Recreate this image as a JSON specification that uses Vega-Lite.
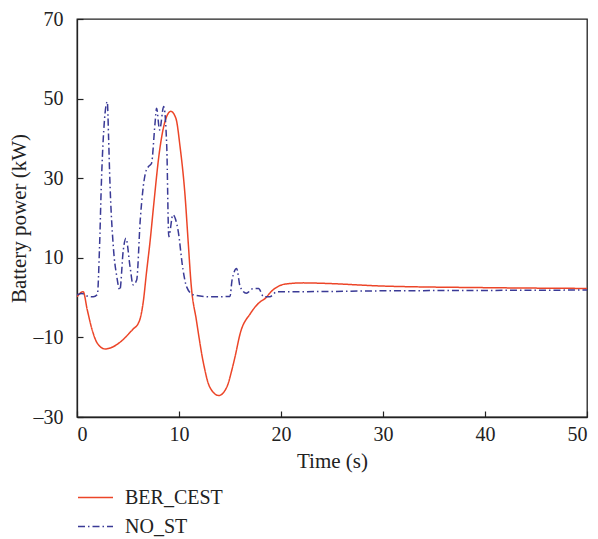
{
  "$schema": "https://vega.github.io/schema/vega-lite/v6.json",
  "width": 510,
  "height": 398,
  "autosize": {"type": "none"},
  "padding": {"left": 77, "top": 19, "right": 11, "bottom": 122},
  "background": "white",
  "config": {
    "view": {"stroke": "#222222", "strokeWidth": 1.3},
    "font": "Liberation Serif",
    "axis": {
      "labelFont": "Liberation Serif",
      "titleFont": "Liberation Serif",
      "labelFontSize": 20,
      "titleFontSize": 21,
      "labelColor": "#222222",
      "titleColor": "#222222",
      "titleFontWeight": "normal",
      "domainColor": "#222222",
      "domainWidth": 1.3,
      "tickColor": "#222222",
      "tickSize": -6,
      "tickWidth": 1.2,
      "grid": false
    },
    "legend": {
      "labelFont": "Liberation Serif",
      "labelFontSize": 20,
      "labelColor": "#222222"
    }
  },
  "data": {
    "values": [
      {"t": 0, "p": 0.2, "s": "BER_CEST"},
      {"t": 0.6, "p": 1.5, "s": "BER_CEST"},
      {"t": 1.0, "p": -3, "s": "BER_CEST"},
      {"t": 1.44, "p": -7.7, "s": "BER_CEST"},
      {"t": 2.0, "p": -11.5, "s": "BER_CEST"},
      {"t": 2.75, "p": -12.9, "s": "BER_CEST"},
      {"t": 3.5, "p": -12.4, "s": "BER_CEST"},
      {"t": 4.5, "p": -10.6, "s": "BER_CEST"},
      {"t": 5.5, "p": -7.9, "s": "BER_CEST"},
      {"t": 6.0, "p": -6.5, "s": "BER_CEST"},
      {"t": 6.2, "p": -5.2, "s": "BER_CEST"},
      {"t": 6.5, "p": -1, "s": "BER_CEST"},
      {"t": 6.8, "p": 6, "s": "BER_CEST"},
      {"t": 7.2, "p": 15, "s": "BER_CEST"},
      {"t": 7.5, "p": 22.8, "s": "BER_CEST"},
      {"t": 8.1, "p": 37, "s": "BER_CEST"},
      {"t": 8.6, "p": 44, "s": "BER_CEST"},
      {"t": 9.2, "p": 46.8, "s": "BER_CEST"},
      {"t": 9.7, "p": 45, "s": "BER_CEST"},
      {"t": 10.1, "p": 38, "s": "BER_CEST"},
      {"t": 10.6, "p": 25.4, "s": "BER_CEST"},
      {"t": 10.9, "p": 14, "s": "BER_CEST"},
      {"t": 11.2, "p": 3, "s": "BER_CEST"},
      {"t": 11.7, "p": -5.6, "s": "BER_CEST"},
      {"t": 12.4, "p": -16.5, "s": "BER_CEST"},
      {"t": 13.0, "p": -22.4, "s": "BER_CEST"},
      {"t": 13.9, "p": -24.6, "s": "BER_CEST"},
      {"t": 14.7, "p": -22.4, "s": "BER_CEST"},
      {"t": 15.2, "p": -18, "s": "BER_CEST"},
      {"t": 15.5, "p": -14.8, "s": "BER_CEST"},
      {"t": 16.0, "p": -9.0, "s": "BER_CEST"},
      {"t": 17.0, "p": -4.0, "s": "BER_CEST"},
      {"t": 18.1, "p": -0.8, "s": "BER_CEST"},
      {"t": 18.3, "p": -0.5, "s": "BER_CEST"},
      {"t": 19.2, "p": 1.9, "s": "BER_CEST"},
      {"t": 20.4, "p": 3.4, "s": "BER_CEST"},
      {"t": 22.2, "p": 3.7, "s": "BER_CEST"},
      {"t": 24, "p": 3.6, "s": "BER_CEST"},
      {"t": 30, "p": 2.9, "s": "BER_CEST"},
      {"t": 40, "p": 2.5, "s": "BER_CEST"},
      {"t": 50, "p": 2.3, "s": "BER_CEST"},
      {"t": 0, "p": 0.7, "s": "NO_ST"},
      {"t": 0.5, "p": 1.0, "s": "NO_ST"},
      {"t": 1.0, "p": 0.4, "s": "NO_ST"},
      {"t": 1.6, "p": 0.2, "s": "NO_ST"},
      {"t": 2.0, "p": 0.8, "s": "NO_ST"},
      {"t": 2.2, "p": 12, "s": "NO_ST"},
      {"t": 2.4, "p": 29.5, "s": "NO_ST"},
      {"t": 2.75, "p": 46.3, "s": "NO_ST"},
      {"t": 2.97, "p": 49.2, "s": "NO_ST"},
      {"t": 3.1, "p": 40, "s": "NO_ST"},
      {"t": 3.2, "p": 31.2, "s": "NO_ST"},
      {"t": 3.56, "p": 12.8, "s": "NO_ST"},
      {"t": 3.9, "p": 5.3, "s": "NO_ST"},
      {"t": 4.2, "p": 1.9, "s": "NO_ST"},
      {"t": 4.54, "p": 12, "s": "NO_ST"},
      {"t": 4.8, "p": 14.9, "s": "NO_ST"},
      {"t": 5.2, "p": 7.8, "s": "NO_ST"},
      {"t": 5.5, "p": 3.2, "s": "NO_ST"},
      {"t": 5.85, "p": 4.4, "s": "NO_ST"},
      {"t": 6.2, "p": 19.5, "s": "NO_ST"},
      {"t": 6.7, "p": 31.2, "s": "NO_ST"},
      {"t": 7.0, "p": 32.9, "s": "NO_ST"},
      {"t": 7.3, "p": 33.7, "s": "NO_ST"},
      {"t": 7.65, "p": 43.8, "s": "NO_ST"},
      {"t": 7.8, "p": 47.6, "s": "NO_ST"},
      {"t": 8.1, "p": 42.1, "s": "NO_ST"},
      {"t": 8.5, "p": 48.0, "s": "NO_ST"},
      {"t": 8.8, "p": 37.9, "s": "NO_ST"},
      {"t": 9.0, "p": 15.3, "s": "NO_ST"},
      {"t": 9.4, "p": 20.8, "s": "NO_ST"},
      {"t": 9.9, "p": 17, "s": "NO_ST"},
      {"t": 10.4, "p": 6.9, "s": "NO_ST"},
      {"t": 10.75, "p": 2.7, "s": "NO_ST"},
      {"t": 11.4, "p": 0.7, "s": "NO_ST"},
      {"t": 13, "p": 0.2, "s": "NO_ST"},
      {"t": 15.0, "p": 0.3, "s": "NO_ST"},
      {"t": 15.2, "p": 4.4, "s": "NO_ST"},
      {"t": 15.65, "p": 7.3, "s": "NO_ST"},
      {"t": 16.0, "p": 2.7, "s": "NO_ST"},
      {"t": 16.6, "p": 1.1, "s": "NO_ST"},
      {"t": 17.3, "p": 2.3, "s": "NO_ST"},
      {"t": 17.8, "p": 2.3, "s": "NO_ST"},
      {"t": 18.3, "p": 0.2, "s": "NO_ST"},
      {"t": 18.9, "p": 0.2, "s": "NO_ST"},
      {"t": 19.6, "p": 1.5, "s": "NO_ST"},
      {"t": 22.2, "p": 1.5, "s": "NO_ST"},
      {"t": 30, "p": 1.7, "s": "NO_ST"},
      {"t": 40, "p": 1.8, "s": "NO_ST"},
      {"t": 50, "p": 1.9, "s": "NO_ST"}
    ]
  },
  "mark": {"type": "line", "strokeWidth": 1.5, "interpolate": "monotone", "clip": true},
  "encoding": {
    "x": {
      "field": "t",
      "type": "quantitative",
      "scale": {"domain": [0, 50], "nice": false},
      "axis": {"values": [0, 10, 20, 30, 40, 50], "title": "Time (s)", "labelPadding": 13, "titlePadding": 6}
    },
    "y": {
      "field": "p",
      "type": "quantitative",
      "scale": {"domain": [-30, 70], "nice": false, "zero": false},
      "axis": {"values": [-30, -10, 10, 30, 50, 70], "title": "Battery power (kW)", "labelPadding": 20, "titleX": -48, "titleY": 199, "labelExpr": "replace(datum.label, '−', '–')"}
    },
    "color": {
      "field": "s",
      "type": "nominal",
      "scale": {"domain": ["BER_CEST", "NO_ST"], "range": ["#ec4528", "#3a3a96"]},
      "legend": {
        "title": null,
        "orient": "none",
        "legendX": 0,
        "legendY": 460,
        "padding": 0,
        "symbolType": "stroke",
        "symbolSize": 1225,
        "symbolStrokeWidth": 1.5,
        "labelOffset": 11,
        "rowPadding": -9
      }
    },
    "strokeDash": {
      "field": "s",
      "type": "nominal",
      "scale": {"domain": ["BER_CEST", "NO_ST"], "range": [[1, 0], [7, 3, 1.5, 3]]},
      "legend": null
    }
  }
}
